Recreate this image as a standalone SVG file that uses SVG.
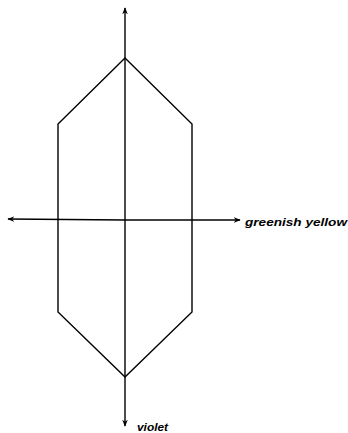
<svg xmlns="http://www.w3.org/2000/svg" width="348" height="433" viewBox="0 0 348 433">
<style>
.ln{stroke:#000;stroke-width:1.4;fill:none;stroke-linejoin:miter}
.lbl{font-family:"Liberation Sans",Arial,sans-serif;font-style:italic;font-weight:bold;font-size:11px;fill:#000}
</style>
<defs>
<marker id="ah" viewBox="0 0 10 10" refX="9" refY="5" markerWidth="7" markerHeight="7" orient="auto" markerUnits="userSpaceOnUse">
<path d="M0,1 L10,5 L0,9 L3,5 Z" fill="#000"/>
</marker>
</defs>
<rect width="348" height="433" fill="#fff"/>
<g id="connectors">
<line class="ln" x1="125" y1="220" x2="125" y2="8" marker-end="url(#ah)"/>
<line class="ln" x1="125" y1="220" x2="125" y2="426" marker-end="url(#ah)"/>
<line class="ln" x1="125" y1="220" x2="8" y2="219" marker-end="url(#ah)"/>
<line class="ln" x1="125" y1="220" x2="240" y2="220" marker-end="url(#ah)"/>
</g>
<g id="hexagon">
<polygon class="ln" points="125,58 192,124 192,312 125,377 58,312 58,124"/>
</g>
<g id="label-yellow">
<text class="lbl" x="245" y="226" textLength="102" lengthAdjust="spacingAndGlyphs">greenish yellow</text>
</g>
<g id="label-violet">
<text class="lbl" x="137" y="431" textLength="31" lengthAdjust="spacingAndGlyphs">violet</text>
</g>
</svg>
